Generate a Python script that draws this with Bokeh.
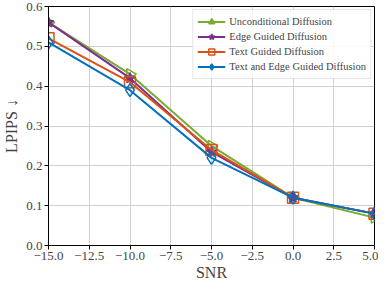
import math
from bokeh.plotting import figure
from bokeh.models import FixedTicker, Range1d, Legend, LegendItem
from bokeh.embed import file_html
from bokeh.resources import INLINE

snr = [-15, -10, -5, 0, 5]
uncond = [0.56, 0.43, 0.25, 0.12, 0.07]
edge = [0.56, 0.42, 0.235, 0.12, 0.08]
text = [0.52, 0.41, 0.24, 0.12, 0.08]
text_edge = [0.51, 0.39, 0.22, 0.12, 0.08]
names = ["Unconditional Diffusion", "Edge Guided Diffusion", "Text Guided Diffusion", "Text and Edge Guided Diffusion"]
colors = ["#77AC30", "#7E2F8E", "#D95319", "#0072BD"]
x_ticks = [-15.0, -12.5, -10.0, -7.5, -5.0, -2.5, 0.0, 2.5, 5.0]
y_ticks = [0.0, 0.1, 0.2, 0.3, 0.4, 0.5, 0.6]

FONT = "Liberation Serif"

p = figure(width=378, height=283, output_backend="svg", toolbar_location=None,
           x_range=Range1d(-15, 5), y_range=Range1d(0, 0.6),
           min_border_left=39, min_border_right=4, min_border_top=6, min_border_bottom=34)
p.outline_line_color = "black"
p.outline_line_width = 1

series = [uncond, edge, text, text_edge]
markers = [("triangle", -math.pi / 2, False), ("star", 0, True), ("square", 0, False), ("diamond", 0, False)]
items = []
for ys, name, c, (m, ang, filled) in zip(series, names, colors, markers):
    r1 = p.line(snr, ys, line_color=c, line_width=2)
    sz = 11 if m != "diamond" else 13
    r2 = p.scatter(snr, ys, marker=m, angle=ang, size=sz, line_color=c, line_width=1.5,
                   fill_color=c if filled else "white", fill_alpha=1.0 if filled else 0.0)
    items.append(LegendItem(label=name, renderers=[r1, r2]))

legend = Legend(items=items, location="top_right")
legend.label_text_font = FONT
legend.label_text_font_size = "10.5px"
legend.label_height = 15
legend.glyph_height = 15
legend.glyph_width = 28
legend.spacing = 0
legend.padding = 4
legend.margin = 3
legend.label_standoff = 4
legend.border_line_color = "#cccccc"
legend.border_line_width = 1
legend.background_fill_alpha = 0.85
p.add_layout(legend)

p.xaxis.ticker = FixedTicker(ticks=x_ticks)
p.yaxis.ticker = FixedTicker(ticks=y_ticks)
p.xaxis.major_label_overrides = {t: ("%.1f" % t).replace("-", "\u2212") for t in x_ticks}
p.yaxis.major_label_overrides = {t: "%.1f" % t for t in y_ticks}
p.xaxis.axis_label = "SNR"
p.yaxis.axis_label = "LPIPS \u2193"
for ax in [p.xaxis[0], p.yaxis[0]]:
    ax.axis_label_text_font = FONT
    ax.axis_label_text_font_style = "normal"
    ax.axis_label_text_font_size = "16px"
    ax.major_label_text_font = FONT
    ax.major_label_text_font_size = "13px"
    ax.major_tick_out = 4
    ax.major_tick_in = 0
    ax.minor_tick_out = 0
    ax.minor_tick_in = 0
    ax.axis_line_color = "black"
    ax.major_label_standoff = 2
p.xaxis.axis_label_standoff = 1
p.yaxis.axis_label_standoff = 3
p.grid.grid_line_color = "#d0d0d0"
p.grid.grid_line_width = 1

open("out.html", "w").write(file_html(p, INLINE))
